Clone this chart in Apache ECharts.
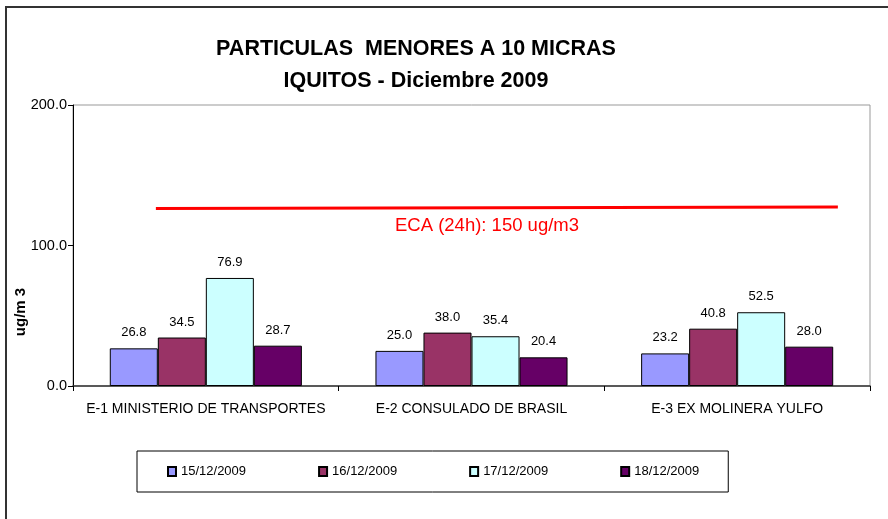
<!DOCTYPE html>
<html>
<head>
<meta charset="utf-8">
<script src="https://cdn.jsdelivr.net/npm/echarts@6/dist/echarts.min.js"></script>
<style>
html,body{margin:0;padding:0;background:#fff;}
#chart{width:888px;height:519px;}
</style>
</head>
<body>
<div id="chart"></div>
<script>
var categories = ['E-1 MINISTERIO DE TRANSPORTES', 'E-2 CONSULADO DE BRASIL', 'E-3 EX MOLINERA YULFO'];
var seriesNames = ['15/12/2009', '16/12/2009', '17/12/2009', '18/12/2009'];
var d15 = [26.8, 25.0, 23.2];
var d16 = [34.5, 38.0, 40.8];
var d17 = [76.9, 35.4, 52.5];
var d18 = [28.7, 20.4, 28.0];
var yTicks = [0, 100, 200];
// ECA reference line as drawn: [position along categories (0..3), value]
var ecaLine = [[0.312, 126.3], [2.879, 127.4]];
var ecaLabel = 'ECA (24h): 150 ug/m3';

var colors = ['#9999FF', '#993366', '#CCFFFF', '#660066'];
var values = [d15, d16, d17, d18];
var FONT = '"Liberation Sans", Arial, sans-serif';

var chart = echarts.init(document.getElementById('chart'));

var series = seriesNames.map(function (name, i) {
  return {
    name: name,
    type: 'bar',
    xAxisIndex: 0,
    yAxisIndex: 0,
    data: values[i],
    barGap: '0%',
    barCategoryGap: '27.7%',
    itemStyle: { color: colors[i], borderColor: '#000', borderWidth: 1 },
    label: {
      show: true, position: 'top', distance: 9,
      formatter: function (p) { return p.value.toFixed(1); },
      fontFamily: FONT, fontSize: 13, color: '#000'
    },
    emphasis: { disabled: true },
    animation: false
  };
});

series.push({
  name: 'ECA',
  type: 'line',
  xAxisIndex: 1,
  yAxisIndex: 0,
  data: ecaLine,
  symbol: 'none',
  lineStyle: { color: '#FF0000', width: 3 },
  silent: true,
  animation: false
});

chart.setOption({
  backgroundColor: '#fff',
  animation: false,
  title: {
    text: 'PARTICULAS  MENORES A 10 MICRAS\nIQUITOS - Diciembre 2009',
    left: 411, top: 28, textAlign: 'center',
    textStyle: { fontFamily: FONT, fontWeight: 'bold', fontSize: 21.5, lineHeight: 32, color: '#000' }
  },
  grid: {
    left: 73, right: 18, top: 105, bottom: 133,
    show: true, borderColor: '#999', borderWidth: 1, backgroundColor: 'transparent'
  },
  legend: {
    data: seriesNames,
    left: 137, top: 451,
    orient: 'horizontal',
    padding: [14, 29, 14, 30],
    itemGap: 72,
    itemWidth: 8, itemHeight: 9,
    icon: 'rect',
    borderColor: '#000', borderWidth: 1,
    textStyle: { fontFamily: FONT, fontSize: 13, color: '#000' },
    selectedMode: false
  },
  xAxis: [{
    type: 'category',
    data: categories,
    axisLine: { lineStyle: { color: '#333', width: 1.5 } },
    axisTick: { show: true, alignWithLabel: false, length: 5, lineStyle: { color: '#000' } },
    axisLabel: { fontFamily: FONT, fontSize: 14, color: '#000', margin: 16, interval: 0 },
    splitLine: { show: false }
  }, {
    type: 'value', min: 0, max: 3, show: false
  }],
  yAxis: {
    type: 'value',
    min: yTicks[0], max: yTicks[yTicks.length - 1], interval: 100,
    axisLine: { show: true, lineStyle: { color: '#000', width: 1 } },
    axisTick: { show: true, length: 5, lineStyle: { color: '#000' } },
    axisLabel: {
      fontFamily: FONT, fontSize: 14.5, color: '#000', margin: 6,
      formatter: function (v) { return v.toFixed(1); }
    },
    splitLine: { show: false }
  },
  graphic: [
    {
      type: 'rect', silent: true, z: -1,
      shape: { x: 6, y: 7, width: 900, height: 600 },
      style: { fill: 'none', stroke: '#333', lineWidth: 2 }
    },
    {
      type: 'text', silent: true,
      x: 21, y: 312, rotation: Math.PI / 2,
      style: {
        text: 'ug/m 3', fontFamily: FONT, fontWeight: 'bold', fontSize: 15, fill: '#000',
        align: 'center', verticalAlign: 'middle'
      }
    },
    {
      type: 'text', silent: true,
      x: 487, y: 226,
      style: {
        text: ecaLabel, fontFamily: FONT, fontSize: 18.5, fill: '#FF0000',
        align: 'center', verticalAlign: 'middle'
      }
    }
  ],
  series: series
});
</script>
</body>
</html>
